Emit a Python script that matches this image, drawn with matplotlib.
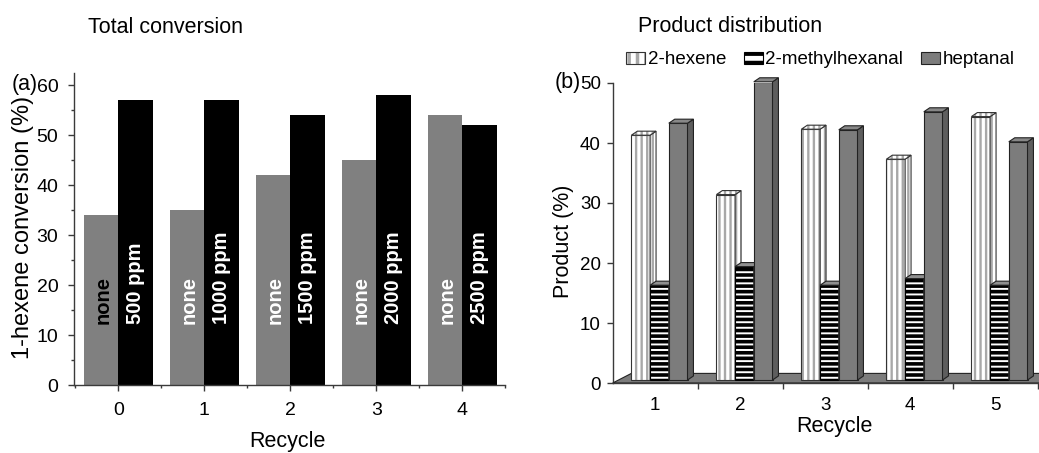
import matplotlib
matplotlib.use('Agg')
import matplotlib.pyplot as plt
from matplotlib.patches import Polygon, Patch
from matplotlib.legend_handler import HandlerTuple
import numpy as np

plt.rcParams['font.family'] = ['Liberation Sans', 'DejaVu Sans']
plt.rcParams['hatch.linewidth'] = 2.5

# (a) total conversion per recycle
recycles_a = [0, 1, 2, 3, 4]
conv_none = [34, 35.1, 42, 45, 54]
conv_co2 = [57.1, 57.1, 54.1, 58.1, 52]
co2_labels = ['500 ppm', '1000 ppm', '1500 ppm', '2000 ppm', '2500 ppm']
none_label = 'none'

# (b) product distribution per recycle
recycles_b = [1, 2, 3, 4, 5]
hexene = [41.3, 31.4, 42.3, 37.3, 44.4]
methylhexanal = [16.3, 19.4, 16.3, 17.4, 16.3]
heptanal = [43.3, 50.2, 42.2, 45.2, 40.2]
series_names = ['2-hexene', '2-methylhexanal', 'heptanal']

W, H = 1039, 453
fig = plt.figure(figsize=(W / 100, H / 100), dpi=100)

axis_col = '#3a3a3a'

def hlw(patch, lw):
    if hasattr(patch, 'set_hatch_linewidth'):
        patch.set_hatch_linewidth(lw)

# ---------------- panel (a) ----------------
ax1 = fig.add_axes([74 / W, 1 - 385 / H, 431.3 / W, 312.5 / H])
x = np.array(recycles_a)
bw = 0.4
ax1.bar(x - bw / 2, conv_none, width=bw, color='#808080', linewidth=0)
ax1.bar(x + bw / 2, conv_co2, width=bw, color='black', linewidth=0)

none_colors = ['black', 'white', 'white', 'white', 'white']
for i in range(len(x)):
    ax1.text(x[i] - bw / 2 + 0.02, 12.3, none_label, rotation=90, ha='center', va='bottom',
             color=none_colors[i], fontsize=14.5, fontweight='bold')
    ax1.text(x[i] + bw / 2, 12.3, co2_labels[i], rotation=90, ha='center', va='bottom',
             color='white', fontsize=14.5, fontweight='bold')

ax1.set_xlim(-0.515, 4.5)
ax1.set_ylim(0, 62.5)
ax1.set_xticks(x)
ax1.set_xticks(np.arange(-0.5, 4.6, 1), minor=True)
ax1.set_yticks(np.arange(0, 61, 10))
ax1.set_yticks(np.arange(5, 61, 10), minor=True)
for s in ['top', 'right']:
    ax1.spines[s].set_visible(False)
for s in ['left', 'bottom']:
    ax1.spines[s].set_color(axis_col)
    ax1.spines[s].set_linewidth(1)
ax1.tick_params(axis='y', which='major', length=4.3, width=1, color=axis_col, labelsize=14, pad=7)
ax1.tick_params(axis='y', which='minor', length=2.5, width=1, color=axis_col)
ax1.tick_params(axis='x', which='major', length=4, width=1, color=axis_col, labelsize=14, pad=8)
ax1.tick_params(axis='x', which='minor', length=2.5, width=1, color=axis_col)

fig.text(23 / W, 1 - 227.5 / H, '1-hexene conversion (%)', rotation=90, ha='center', va='center', fontsize=17)
fig.text(287.5 / W, 1 - 447 / H, 'Recycle', ha='center', va='baseline', fontsize=15.5)
fig.text(88 / W, 1 - 33 / H, 'Total conversion', ha='left', va='baseline', fontsize=15.5)
fig.text(12 / W, 1 - 90 / H, '(a)', ha='left', va='baseline', fontsize=15.5)

# ---------------- panel (b) ----------------
ax2 = fig.add_axes([612.7 / W, 1 - 383 / H, 425 / W, 300 / H])
ax2.set_xlim(0.5, 5.5)
ax2.set_ylim(0, 50)

xb = np.array(recycles_b, dtype=float)
w = 0.22
dx, dy = 0.07, 0.67
base = 0.5
offsets = [-0.28, -0.06, 0.16]

# floor slab
floor = Polygon([(0.5, 0), (5.6, 0), (5.6 + 0.22, 1.6), (0.5 + 0.22, 1.6)], closed=True,
                facecolor='#7c7c7c', edgecolor='#222222', linewidth=0.8, zorder=1, clip_on=False)
ax2.add_patch(floor)

def faces(ax, lefts, tops, side_fc, top_fc, ec, z, hatch=None, hatch_ec=None, hatch_lw=1.0):
    for l, t in zip(lefts, tops):
        side = [(l + w, base), (l + w + dx, base + dy), (l + w + dx, t + dy), (l + w, t)]
        top = [(l, t), (l + w, t), (l + w + dx, t + dy), (l + dx, t + dy)]
        for pts, fc in [(side, side_fc), (top, top_fc)]:
            if hatch:
                p = Polygon(pts, closed=True, facecolor=fc, edgecolor=hatch_ec, hatch=hatch,
                            linewidth=0, zorder=z, clip_on=False)
                hlw(p, hatch_lw)
                ax.add_patch(p)
                ax.add_patch(Polygon(pts, closed=True, fill=False, edgecolor=ec, linewidth=0.8,
                                     zorder=z, clip_on=False))
            else:
                ax.add_patch(Polygon(pts, closed=True, facecolor=fc, edgecolor=ec, linewidth=0.8,
                                     zorder=z, clip_on=False))

# 2-hexene
l0 = xb + offsets[0]
h0 = np.array(hexene) - base
bars = ax2.bar(l0, h0, width=w, bottom=base, align='edge', color='white', edgecolor='#a8a8a8',
               hatch='|||', linewidth=0, zorder=2)
for b in bars:
    hlw(b, 1.7)
ax2.bar(l0, h0, width=w, bottom=base, align='edge', fill=False, edgecolor='#333333', linewidth=0.8, zorder=2)
faces(ax2, l0, hexene, 'white', 'white', '#333333', 2, hatch='|||', hatch_ec='#a8a8a8', hatch_lw=1.7)

# 2-methylhexanal
l1 = xb + offsets[1]
bars = ax2.bar(l1, np.array(methylhexanal) - base, width=w, bottom=base, align='edge', color='white',
               edgecolor='black', hatch='---', linewidth=0.8, zorder=3)
for b in bars:
    hlw(b, 2.6)
faces(ax2, l1, methylhexanal, '#707070', '#909090', '#222222', 3)

# heptanal
l2 = xb + offsets[2]
ax2.bar(l2, np.array(heptanal) - base, width=w, bottom=base, align='edge', color='#7c7c7c',
        edgecolor='#222222', linewidth=0.8, zorder=4)
faces(ax2, l2, heptanal, '#5e5e5e', '#888888', '#222222', 4)

ax2.set_xticks(xb)
ax2.set_xticks(np.arange(1.5, 5.6, 1), minor=True)
ax2.set_yticks(np.arange(0, 51, 10))
for s in ['top', 'right']:
    ax2.spines[s].set_visible(False)
for s in ['left', 'bottom']:
    ax2.spines[s].set_color(axis_col)
    ax2.spines[s].set_linewidth(1)
ax2.spines['left'].set_zorder(0.5)
ax2.tick_params(axis='y', which='major', length=4, width=1, color=axis_col, labelsize=13.5, pad=4.5)
ax2.tick_params(axis='x', which='major', length=0, labelsize=13.5, pad=10)
ax2.tick_params(axis='x', which='minor', length=4.5, width=1, color=axis_col)

fig.text(563 / W, 1 - 241.7 / H, 'Product (%)', rotation=90, ha='center', va='center', fontsize=15.5)
fig.text(834 / W, 1 - 432 / H, 'Recycle', ha='center', va='baseline', fontsize=15.5)
fig.text(638 / W, 1 - 32 / H, 'Product distribution', ha='left', va='baseline', fontsize=15.5)
fig.text(555 / W, 1 - 88 / H, '(b)', ha='left', va='baseline', fontsize=15.5)

# legend
hx = Patch(facecolor='white', edgecolor='#a8a8a8', hatch='||', linewidth=0)
hlw(hx, 1.5)
hx_o = Patch(fill=False, edgecolor='#333333', linewidth=0.8)
mh = Patch(facecolor='white', edgecolor='black', hatch='--', linewidth=0.8)
hlw(mh, 3.0)
hp = Patch(facecolor='#7c7c7c', edgecolor='#222222', linewidth=0.8)
fig.legend([(hx, hx_o), mh, hp], series_names, handler_map={tuple: HandlerTuple(ndivide=1)},
           loc='center left', bbox_to_anchor=(626 / W, 1 - 60 / H), ncol=3, frameon=False,
           fontsize=13.5, handlelength=1.0, handleheight=0.55, handletextpad=0.15,
           columnspacing=0.95, borderpad=0, borderaxespad=0)

fig.savefig('out.png', dpi=100)
